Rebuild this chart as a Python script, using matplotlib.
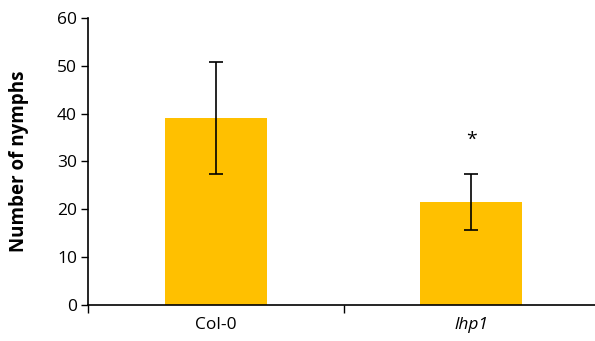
import matplotlib.pyplot as plt

# data
genotypes = ["Col-0", "lhp1"]
nymphs = [39.1, 21.5]
errors = [11.8, 5.9]
star_height = 34.5

plt.rcParams['font.family'] = ['Open Sans', 'DejaVu Sans']

fig = plt.figure(figsize=(5.95, 3.41), dpi=100)
ax = fig.add_axes([0.148, 0.106, 0.859, 0.841])

x = range(len(genotypes))
ax.bar(x, nymphs, width=0.4, color="#FFC000", zorder=2)
ax.errorbar(x, nymphs, yerr=errors, fmt="none", ecolor="black",
            elinewidth=1.2, capsize=5, capthick=1.2, zorder=3)

# significance mark on the mutant
ax.text(1, star_height, "*", ha="center", va="center", fontsize=14)

ax.set_xlim(-0.5, 1.5)
ax.set_ylim(0, 60)
ax.set_yticks(range(0, 61, 10))
ax.set_xticks(list(x))
ax.set_xticklabels(genotypes, fontsize=12.5)
ax.get_xticklabels()[1].set_style("italic")
ax.set_xticks([-0.5, 0.5, 1.5], minor=True)
ax.tick_params(axis="x", which="major", length=0, pad=9)
ax.tick_params(axis="x", which="minor", length=6, width=1, direction="out")
ax.tick_params(axis="y", labelsize=12.5, length=5, width=1, pad=3)

ax.set_ylabel("Number of nymphs", fontsize=13.5, fontweight="bold", labelpad=20)

ax.spines["top"].set_visible(False)
ax.spines["right"].set_visible(False)
for s in ["left", "bottom"]:
    ax.spines[s].set_linewidth(1.2)
    ax.spines[s].set_zorder(4)

fig.savefig("out.png", dpi=100)
